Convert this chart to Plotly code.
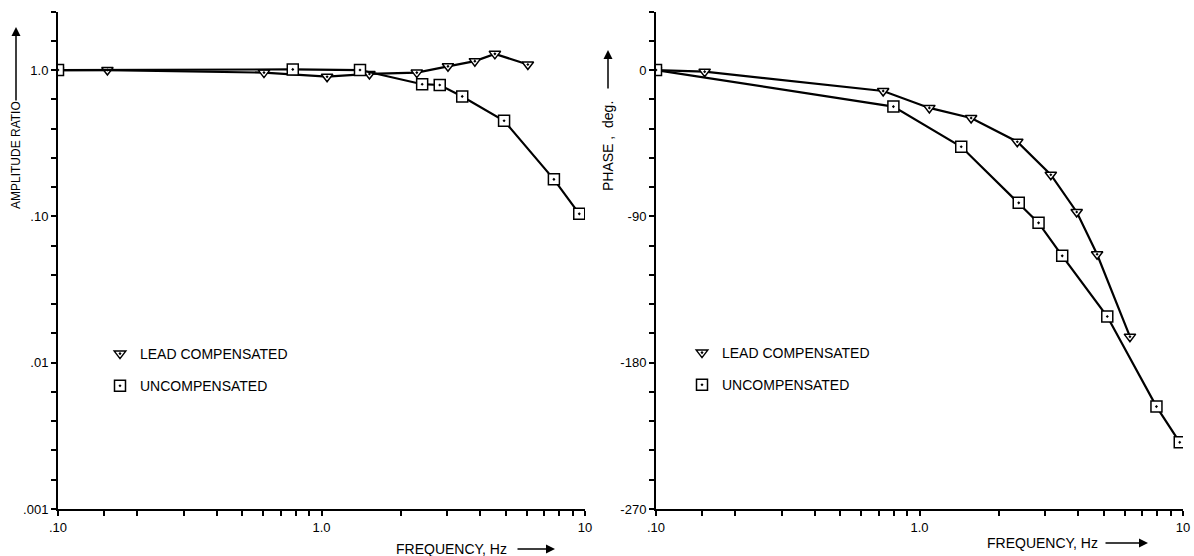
import plotly.graph_objects as go

# ---- data ----
freq_lead_amp = [0.10, 0.154, 0.605, 1.05, 1.52, 2.30, 3.02, 3.82, 4.55, 6.07]
amp_lead = [1.0, 1.0, 0.96, 0.90, 0.94, 0.96, 1.06, 1.15, 1.29, 1.09]
freq_unc_amp = [0.10, 0.778, 1.40, 2.41, 2.81, 3.42, 4.93, 7.62, 9.51]
amp_unc = [1.0, 1.01, 1.0, 0.80, 0.79, 0.66, 0.45, 0.179, 0.104]

freq_lead_ph = [0.10, 0.153, 0.728, 1.09, 1.57, 2.35, 3.15, 3.95, 4.72, 6.29]
phase_lead = [0, -1, -12.9, -23.3, -29.5, -44.1, -64.4, -87.3, -113.3, -164]
freq_unc_ph = [0.10, 0.796, 1.44, 2.38, 2.83, 3.48, 5.16, 7.93, 9.72]
phase_unc = [0, -22.5, -47.2, -81.7, -94.0, -114.3, -151.6, -207, -229]

x_tickvals = [0.1, 1, 10]
x_ticktext = [".10", "1.0", "10"]
x_minor = [0.15, 0.2, 0.3, 0.4, 0.5, 0.6, 0.7, 0.8, 0.9, 2, 3, 4, 5, 6, 7, 8, 9]
amp_tickvals = [0.001, 0.01, 0.1, 1.0]
amp_ticktext = [".001", ".01", ".10", "1.0"]
amp_minor = [10 ** (-3 + k / 5) for k in range(0, 18)]
ph_tickvals = [-270, -180, -90, 0]
ph_ticktext = ["-270", "-180", "-90", "0"]
ph_minor = list(range(-270, 37, 18))

series_names = ["LEAD COMPENSATED", "UNCOMPENSATED"]

W, H = 1194, 556
FONT = "Liberation Sans, Arial, sans-serif"

def px(x):
    return x / W

def py(y):
    return 1 - y / H

tri = dict(symbol="triangle-down-dot", size=10, color="white",
           line=dict(color="black", width=1.5))
sq = dict(symbol="square-dot", size=11, color="white",
          line=dict(color="black", width=1.5))
ln = dict(color="black", width=2.2)

fig = go.Figure()

# left panel: amplitude
fig.add_trace(go.Scatter(x=freq_lead_amp, y=amp_lead, mode="lines+markers",
                         line=ln, marker=tri, xaxis="x", yaxis="y", showlegend=False))
fig.add_trace(go.Scatter(x=freq_unc_amp, y=amp_unc, mode="lines+markers",
                         line=ln, marker=sq, xaxis="x", yaxis="y", showlegend=False))
# right panel: phase
fig.add_trace(go.Scatter(x=freq_lead_ph, y=phase_lead, mode="lines+markers",
                         line=ln, marker=tri, xaxis="x2", yaxis="y2", showlegend=False))
fig.add_trace(go.Scatter(x=freq_unc_ph, y=phase_unc, mode="lines+markers",
                         line=ln, marker=sq, xaxis="x2", yaxis="y2", showlegend=False))

# legend-only entries (marker symbols only)
for lg in ["legend", "legend2"]:
    for name, mk in zip(series_names, [tri, sq]):
        fig.add_trace(go.Scatter(x=[None], y=[None], mode="markers", marker=mk,
                                 name=name, legend=lg, legendgroup=lg + name,
                                 showlegend=True, xaxis="x", yaxis="y"))

ydom = [py(509), py(11.5)]
axis_style = dict(showline=True, linecolor="black", linewidth=2, ticks="outside",
                  ticklen=5, tickwidth=1.5, tickcolor="black", showgrid=False,
                  zeroline=False, automargin=False,
                  tickfont=dict(family=FONT, size=13, color="black"))

def minor(vals):
    return dict(tickvals=vals, ticks="outside", ticklen=5, tickwidth=1.5,
                tickcolor="black", showgrid=False)

common_x = dict(type="log", range=[-1, 1], tickvals=x_tickvals, ticktext=x_ticktext,
                minor=minor(x_minor), **axis_style)

legend_common = dict(font=dict(family=FONT, size=14, color="black"),
                     bgcolor="rgba(0,0,0,0)", borderwidth=0, tracegroupgap=11,
                     xanchor="left", yanchor="top", itemclick=False)

fig.update_layout(
    template="none",
    width=W, height=H,
    margin=dict(l=0, r=0, t=0, b=0, pad=0, autoexpand=False),
    paper_bgcolor="white", plot_bgcolor="white",
    font=dict(family=FONT, color="black"),
    xaxis=dict(domain=[px(58), px(585)], anchor="y", **common_x),
    xaxis2=dict(domain=[px(656), px(1183)], anchor="y2", **common_x),
    yaxis=dict(domain=ydom, anchor="x", type="log", range=[-3, 0.4],
               tickvals=amp_tickvals, ticktext=amp_ticktext,
               minor=minor(amp_minor), **axis_style),
    yaxis2=dict(domain=ydom, anchor="x2", range=[-270, 36],
                tickvals=ph_tickvals, ticktext=ph_ticktext,
                minor=minor(ph_minor), **axis_style),
    legend=dict(x=px(100), y=py(338), **legend_common),
    legend2=dict(x=px(682), y=py(337), **legend_common),
)

annos = [
    dict(text="AMPLITUDE RATIO", x=px(16), y=py(155), textangle=-90,
         font=dict(family=FONT, size=12, color="black")),
    dict(text="PHASE ,  deg.", x=px(608), y=py(146), textangle=-90,
         font=dict(family=FONT, size=14, color="black")),
    dict(text="FREQUENCY, Hz", x=px(451), y=py(549),
         font=dict(family=FONT, size=14, color="black")),
    dict(text="FREQUENCY, Hz", x=px(1042), y=py(543),
         font=dict(family=FONT, size=14, color="black")),
]
for a in annos:
    fig.add_annotation(xref="paper", yref="paper", showarrow=False,
                       xanchor="center", yanchor="middle", **a)

arrows = [
    (16, 27, 0, 75),
    (608, 50, 0, 40),
    (555, 549, -39, 0),
    (1148, 543, -44, 0),
]
for hx, hy, ax, ay in arrows:
    fig.add_annotation(xref="paper", yref="paper", x=px(hx), y=py(hy), text="",
                       showarrow=True, ax=ax, ay=ay, arrowhead=2, arrowsize=1.2,
                       arrowwidth=1.5, arrowcolor="black", standoff=0)

fig.write_html("out.html",
               config={"displayModeBar": False},
               post_script="document.body.style.margin='0px';"
                           "document.body.style.overflow='hidden';")
